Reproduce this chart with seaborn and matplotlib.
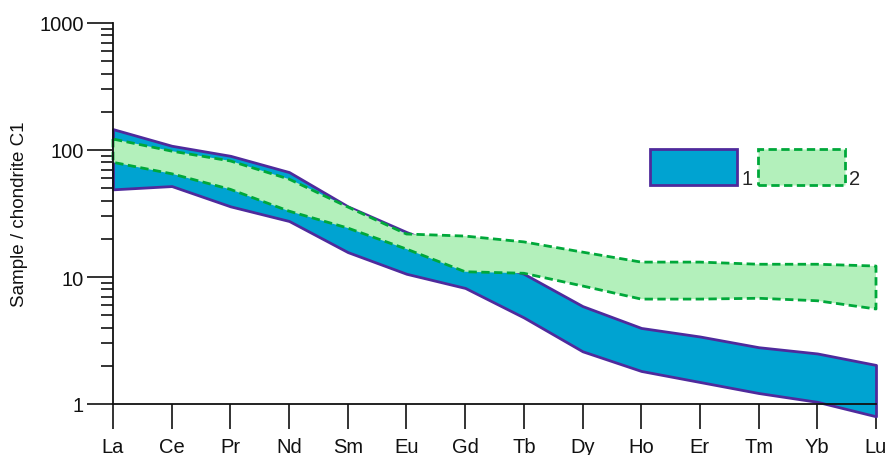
import matplotlib
matplotlib.use("Agg")
import matplotlib.pyplot as plt
import matplotlib.ticker as mticker
from matplotlib.patches import Rectangle
import numpy as np
import pandas as pd
import seaborn as sns

# REE pattern data (chondrite-normalised)
elements = ["La", "Ce", "Pr", "Nd", "Sm", "Eu", "Gd", "Tb", "Dy", "Ho", "Er", "Tm", "Yb", "Lu"]
group1_upper = [146, 108, 90, 67, 36, 22.6, 15, 10.6, 5.9, 3.97, 3.4, 2.8, 2.5, 2.03]
group1_lower = [49, 52, 36, 27.6, 15.7, 10.6, 8.2, 4.8, 2.6, 1.82, 1.49, 1.22, 1.04, 0.8]
group2_upper = [122, 98, 82, 59, 35.6, 21.8, 21, 18.9, 15.7, 13.1, 13.1, 12.6, 12.6, 12.2]
group2_lower = [80, 65, 49, 33, 24.3, 16.6, 11, 10.7, 8.5, 6.7, 6.7, 6.8, 6.5, 5.6]

df = pd.DataFrame({
    "element": elements,
    "g1_hi": group1_upper, "g1_lo": group1_lower,
    "g2_hi": group2_upper, "g2_lo": group2_lower,
})
df["pos"] = np.arange(len(df))

sns.set_style("ticks")
plt.rcParams["font.family"] = ["Liberation Sans", "DejaVu Sans"]

fig = plt.figure(figsize=(8.94, 4.56), dpi=100)
ax = fig.add_axes([113 / 894, 1 - 405 / 456, (876 - 113) / 894, (405 - 24) / 456])

ax.fill_between(df["pos"], df["g1_lo"], df["g1_hi"], facecolor="#00a3d1",
                edgecolor="#4f2a9c", linewidth=2.0, clip_on=False, zorder=2)
ax.fill_between(df["pos"], df["g2_lo"], df["g2_hi"], facecolor="#b3f0bb",
                edgecolor="#00a83a", linewidth=2.0, linestyle=(0, (3, 1.6)),
                clip_on=False, zorder=3)

ax.set_yscale("log")
ax.set_ylim(1, 1000)
ax.set_xlim(0, len(df) - 1)
ax.set_xticks(df["pos"])
ax.set_xticklabels(df["element"])
ax.yaxis.set_major_locator(mticker.FixedLocator([1, 10, 100, 1000]))
ax.yaxis.set_major_formatter(mticker.FixedFormatter(["1", "10", "100", "1000"]))
ax.yaxis.set_minor_locator(mticker.LogLocator(base=10, subs=np.arange(2, 10)))
ax.yaxis.set_minor_formatter(mticker.NullFormatter())

ax.tick_params(axis="y", which="major", length=19, width=1.2, pad=2,
               labelsize=14.5, color="#111111", labelcolor="#111111")
ax.tick_params(axis="y", which="minor", length=9, width=1.2, color="#111111")
ax.tick_params(axis="x", which="major", length=18, width=1.2, pad=6,
               labelsize=14.5, color="#111111", labelcolor="#111111")
ax.set_ylabel("Sample / chondrite C1", fontsize=13.5, labelpad=8, color="#111111")

sns.despine(ax=ax)
for s in ["left", "bottom"]:
    ax.spines[s].set_linewidth(1.3)
    ax.spines[s].set_color("#111111")
    ax.spines[s].set_zorder(4)

# legend boxes
ax.add_patch(Rectangle((0.704, 0.575), 0.114, 0.094, transform=ax.transAxes,
                       facecolor="#00a3d1", edgecolor="#4f2a9c", linewidth=2.0,
                       clip_on=False, zorder=5))
ax.text(0.824, 0.566, "1", transform=ax.transAxes, fontsize=14.5, va="bottom", ha="left")
ax.add_patch(Rectangle((0.845, 0.575), 0.114, 0.094, transform=ax.transAxes,
                       facecolor="#b3f0bb", edgecolor="#00a83a", linewidth=2.0,
                       linestyle=(0, (3, 1.6)), clip_on=False, zorder=5))
ax.text(0.964, 0.566, "2", transform=ax.transAxes, fontsize=14.5, va="bottom", ha="left")

fig.savefig("out.png", dpi=100)
